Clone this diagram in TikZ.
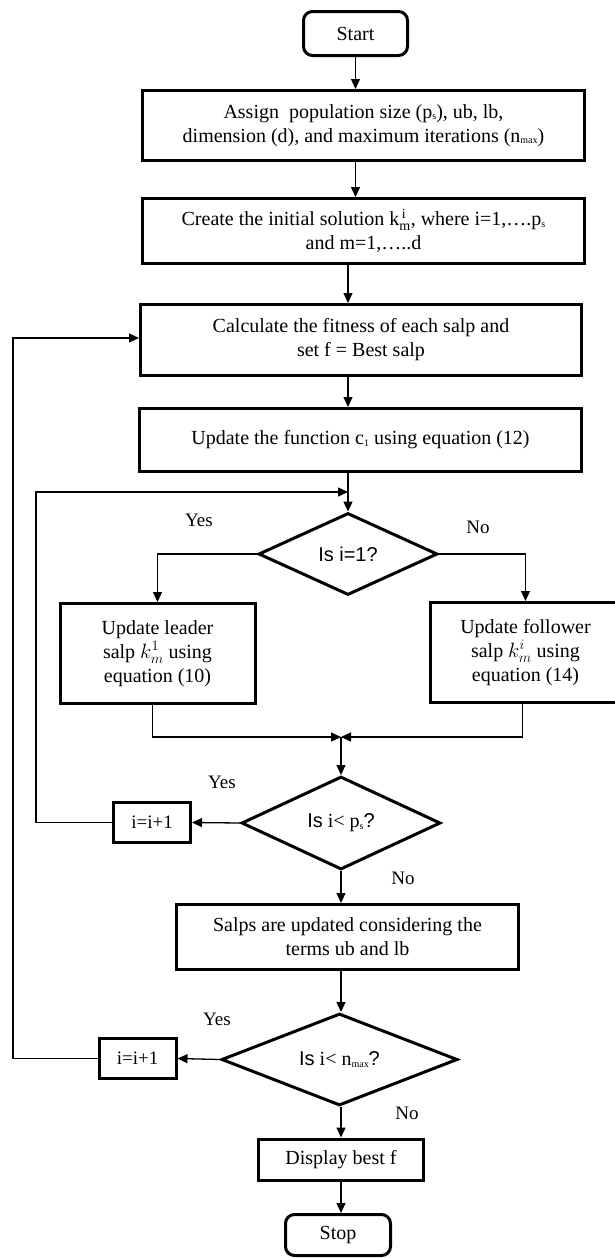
\documentclass[tikz,border=0pt]{standalone}
\usepackage{fontspec}
\setmainfont{Liberation Serif}
\setsansfont{Liberation Sans}
\usetikzlibrary{shapes.geometric,arrows.meta}

\newcommand{\lsub}[1]{\raisebox{-0.15ex}{\fontsize{10}{10}\selectfont #1}}

\begin{document}
\begin{tikzpicture}[x=1pt,y=-1pt,
  box/.style={draw,line width=3pt,inner sep=2pt,align=center,font=\fontsize{20}{24}\selectfont},
  term/.style={box,rounded corners=9pt,minimum width=104pt,minimum height=44pt},
  cond/.style={draw,diamond,aspect=3,line width=3pt,inner sep=0pt,font=\fontsize{20}{24}\selectfont},
  inc/.style={box,font=\fontsize{19}{23}\selectfont,minimum width=77pt,minimum height=40pt},
  lbl/.style={font=\fontsize{19}{23}\selectfont},
  flow/.style={line width=1.3pt,-{Triangle[length=10pt,width=9pt]}}]

\useasboundingbox (0,0) rectangle (614,1258);

% Start and set-up
\node[term] (start) at (355.5,33.5) {Start};
\node[box,minimum width=442pt,minimum height=70pt] (assign) at (363.5,125.5)
  {Assign\ \ population size (p\lsub{s}), ub, lb,\\dimension (d), and maximum iterations (n\lsub{max})};
\node[box,minimum width=442pt,minimum height=65pt] (create) at (363.5,231)
  {Create the initial solution $\mathrm{k}^{\,\mathrm{i}}_{\mathrm{m}}$, where i=1,….p\lsub{s}\\and m=1,…..d};
\node[box,minimum width=441pt,minimum height=71pt] (calc) at (361,340)
  {Calculate the fitness of each salp and\\set f = Best salp};
\node[box,minimum width=442pt,minimum height=63pt] (upc) at (360.5,440)
  {Update the function c\lsub{1} using equation (12)};

% Leader or follower
\node[cond,minimum width=179pt,minimum height=82pt] (dec1) at (348,554) {\sffamily Is i=1?};
\node[box,minimum width=195pt,minimum height=100pt] (leader) at (157.5,653.5)
  {Update leader\\salp $k_m^1$ using\\equation (10)};
\node[box,minimum width=191pt,minimum height=100pt] (follower) at (525.5,652.5)
  {Update follower\\salp $k_m^i$ using\\equation (14)};
\coordinate (mrg) at (341,737);

% Loop over the salps
\node[cond,minimum width=199pt,minimum height=93pt] (dec2) at (341,823)
  {{\sffamily Is} i< p\lsub{s}{\sffamily ?}};
\node[inc] (inc1) at (152,822.5) {i=i+1};
\node[box,minimum width=342pt,minimum height=65pt] (salps) at (347.5,937)
  {Salps are updated considering the\\terms ub and lb};

% Loop over the iterations
\node[cond,minimum width=236pt,minimum height=92pt] (dec3) at (339.5,1059.5)
  {{\sffamily Is} i< n\lsub{max}{\sffamily ?}};
\node[inc] (inc2) at (137.5,1058.5) {i=i+1};
\node[box,minimum width=165pt,minimum height=41pt] (disp) at (341,1159.5) {Display best f};
\node[term,minimum width=105pt,minimum height=41pt] (stop) at (338,1235) {Stop};

% Yes / No
\node[lbl] (yes1) at (199,520) {Yes};
\node[lbl] (no1) at (478,527) {No};
\node[lbl] (yes2) at (222,782) {Yes};
\node[lbl] (no2) at (403,878) {No};
\node[lbl] (yes3) at (217,1019) {Yes};
\node[lbl] (no3) at (407,1113) {No};

% Loop corners
\coordinate (jn) at (348,492);
\coordinate (lp1) at (36,492);
\coordinate (lp2) at (13,338);

% Connectors
\draw[flow] (start.south) -- (start.south |- assign.north);
\draw[flow] (start.south |- assign.south) -- (start.south |- create.north);
\draw[flow] (dec1.north |- create.south) -- (dec1.north |- calc.north);
\draw[flow] (dec1.north |- calc.south) -- (dec1.north |- upc.north);
\draw[flow] (dec1.north |- upc.south) -- (dec1.north);
\draw[flow] (dec1.west) -| (leader.north);
\draw[flow] (dec1.east) -| (follower.north);
\draw[flow] ([xshift=-5pt]leader.south) |- (mrg);
\draw[flow] ([xshift=-3pt]follower.south) |- (mrg);
\draw[flow] (mrg) -- (dec2.north);
\draw[flow] (dec2.west) -- (inc1.east);
\draw[flow] (inc1.west) -| (lp1) -- (jn);
\draw[flow] (dec2.south) -- (salps.north -| dec2.south);
\draw[flow] (salps.south -| dec2.south) -- (dec3.north -| dec2.south);
\draw[flow] (dec3.west) -- (inc2.east);
\draw[flow] (inc2.west) -| (lp2) -- (lp2 -| calc.west);
\draw[flow] (dec3.south -| disp.north) -- (disp.north);
\draw[flow] (disp.south) -- (disp.south |- stop.north);

\end{tikzpicture}
\end{document}
